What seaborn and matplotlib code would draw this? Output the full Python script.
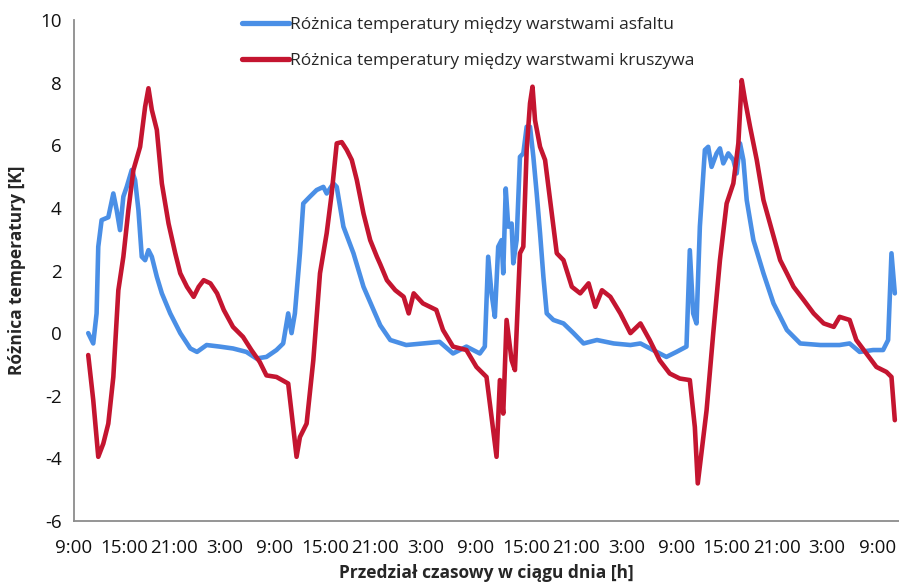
import matplotlib
matplotlib.use("Agg")
import matplotlib.pyplot as plt
import seaborn as sns
import pandas as pd

# hours since 9:00 on day 1
asfalt_t = [1.7, 2.3, 2.7, 2.9, 3.3, 4.1, 4.7, 5.1, 5.5, 5.9, 6.3, 6.9, 7.3, 7.7, 8.1, 8.5, 8.9, 9.3,
            9.9, 10.5, 11.5, 12.7, 13.9, 14.7, 15.85, 17.4, 19.0, 20.6, 21.8, 23.0, 24.2, 25.0, 25.6,
            26.0, 26.4, 27.0, 27.4, 28.2, 29.0, 29.8, 30.2, 31.0, 31.4, 32.2, 33.4, 34.6, 35.8, 36.6,
            37.8, 39.7, 41.7, 43.7, 45.3, 46.9, 48.5, 49.1, 49.5, 49.9, 50.3, 50.7, 51.1, 51.3, 51.6,
            51.9, 52.3, 52.5, 52.9, 53.3, 53.7, 54.1, 54.5, 54.9, 55.3, 55.7, 56.1, 56.5, 57.3, 58.5,
            59.7, 60.9, 62.5, 64.5, 66.5, 67.7, 69.2, 70.8, 72.0, 73.2, 73.6, 74.0, 74.4, 74.8, 75.4,
            75.8, 76.2, 76.8, 77.2, 77.6, 78.2, 78.8, 79.2, 79.6, 80.0, 80.4, 81.2, 82.4, 83.6, 85.2,
            86.8, 89.2, 91.5, 92.7, 93.9, 95.5, 96.7, 97.3, 97.7, 98.1]
asfalt_v = [0.0, -0.33, 0.63, 2.76, 3.61, 3.7, 4.46, 3.93, 3.29, 4.36, 4.67, 5.21, 4.89, 3.93, 2.44, 2.33,
            2.65, 2.44, 1.8, 1.27, 0.63, 0.0, -0.49, -0.6, -0.38, -0.43, -0.49, -0.6, -0.81, -0.76,
            -0.54, -0.33, 0.63, 0.0, 0.63, 2.55, 4.14, 4.36, 4.57, 4.67, 4.46, 4.78, 4.67, 3.4, 2.55,
            1.48, 0.74, 0.25, -0.22, -0.38, -0.33, -0.28, -0.65, -0.43, -0.65, -0.43, 2.44, 1.27, 0.52,
            2.76, 2.97, 1.91, 4.62, 3.4, 3.5, 2.23, 2.97, 5.63, 5.74, 6.59, 6.59, 5.63, 4.46, 3.19,
            1.8, 0.63, 0.42, 0.31, 0.0, -0.33, -0.22, -0.33, -0.38, -0.33, -0.54, -0.76, -0.6, -0.43,
            2.65, 0.63, 0.31, 3.4, 5.85, 5.95, 5.31, 5.74, 5.9, 5.42, 5.74, 5.53, 5.1, 6.06, 5.53,
            4.25, 2.97, 1.91, 0.95, 0.1, -0.33, -0.38, -0.38, -0.33, -0.6, -0.54, -0.54, -0.22, 2.55,
            1.27]

kruszywo_t = [1.7, 2.3, 2.9, 3.5, 4.1, 4.7, 5.3, 5.9, 6.5, 7.1, 7.9, 8.5, 8.9, 9.3, 9.9, 10.5, 11.3,
              12.1, 12.7, 13.5, 14.3, 14.9, 15.5, 16.3, 17.1, 17.9, 19.0, 20.2, 21.2, 22.2, 23.0, 24.2,
              25.6, 26.2, 26.6, 27.0, 27.8, 28.6, 29.4, 30.2, 30.8, 31.4, 32.0, 32.6, 33.2, 33.8, 34.6,
              35.4, 36.2, 36.6, 37.4, 38.4, 39.4, 40.0, 40.6, 41.7, 43.3, 44.1, 45.3, 46.9, 48.1, 49.3,
              49.9, 50.5, 50.9, 51.3, 51.7, 52.3, 52.7, 53.3, 53.7, 54.1, 54.5, 54.8, 55.1, 55.7, 56.3,
              56.9, 57.7, 58.5, 59.5, 60.5, 61.5, 62.3, 63.1, 64.1, 65.3, 66.5, 67.7, 68.8, 70.0, 71.2,
              72.4, 73.6, 74.2, 74.55, 75.6, 76.4, 77.2, 78.0, 78.8, 79.4, 79.8, 80.2, 80.8, 81.6, 82.4,
              83.4, 84.4, 85.2, 86.0, 87.2, 88.4, 89.6, 90.8, 91.5, 92.7, 93.5, 94.7, 95.9, 97.1, 97.7,
              98.1]
kruszywo_v = [-0.7, -2.14, -3.95, -3.53, -2.89, -1.4, 1.37, 2.44, 3.93, 5.21, 5.95, 7.23, 7.82, 7.13,
              6.49, 4.78, 3.5, 2.55, 1.91, 1.48, 1.16, 1.48, 1.69, 1.59, 1.27, 0.74, 0.2, -0.12, -0.54,
              -0.92, -1.35, -1.4, -1.61, -3.0, -3.95, -3.32, -2.89, -0.87, 1.91, 3.19, 4.46, 6.06, 6.1,
              5.85, 5.53, 4.89, 3.82, 2.97, 2.44, 2.2, 1.69, 1.37, 1.16, 0.63, 1.27, 0.95, 0.74, 0.1,
              -0.43, -0.54, -1.08, -1.4, -2.67, -3.95, -1.5, -2.57, 0.42, -0.87, -1.18, 2.55, 2.76, 5.85,
              7.34, 7.87, 6.8, 5.95, 5.53, 4.25, 2.55, 2.33, 1.48, 1.27, 1.59, 0.84, 1.37, 1.16, 0.63,
              0.0, 0.31, -0.22, -0.87, -1.29, -1.45, -1.5, -3.0, -4.8, -2.47, 0.0, 2.33, 4.14, 4.78,
              6.06, 8.08, 7.44, 6.59, 5.53, 4.25, 3.29, 2.33, 1.91, 1.48, 1.06, 0.63, 0.31, 0.2, 0.52,
              0.42, -0.22, -0.65, -1.08, -1.24, -1.4, -2.78]

tick_hours = list(range(0, 97, 6))
tick_labels = ["9:00", "15:00", "21:00", "3:00"] * 4 + ["9:00"]

label_asfalt = "Różnica temperatury między warstwami asfaltu"
label_kruszywo = "Różnica temperatury między warstwami kruszywa"

df = pd.concat([
    pd.DataFrame({"t": asfalt_t, "v": asfalt_v, "seria": label_asfalt}),
    pd.DataFrame({"t": kruszywo_t, "v": kruszywo_v, "seria": label_kruszywo}),
], ignore_index=True)

sns.set_style("white")
plt.rcParams["font.family"] = ["Open Sans", "DejaVu Sans"]
plt.rcParams["axes.unicode_minus"] = False

fig = plt.figure(figsize=(8.99, 5.85), dpi=100)
ax = fig.add_axes([74 / 899, 1 - 521 / 585, 825 / 899, 501 / 585])

sns.lineplot(data=df, x="t", y="v", hue="seria", sort=False, estimator=None,
             palette={label_asfalt: "#4a8fe6", label_kruszywo: "#c41530"},
             linewidth=3.3, ax=ax)

ax.set_xlim(0, 98.6)
ax.set_ylim(-6, 10)
ax.set_yticks(range(-6, 11, 2))
ax.set_xticks(tick_hours)
ax.set_xticklabels(tick_labels)

for s in ["top", "right"]:
    ax.spines[s].set_visible(False)
for s in ["left", "bottom"]:
    ax.spines[s].set_color("#8c8c8c")
    ax.spines[s].set_linewidth(1.3)
ax.tick_params(axis="both", direction="out", length=5, width=1.2, color="#8c8c8c",
               labelsize=13.5, labelcolor="#111111", pad=4)
ax.tick_params(axis="x", pad=8)

ax.set_xlabel("Przedział czasowy w ciągu dnia [h]", fontsize=12.5, fontweight="bold", labelpad=5)
ax.set_ylabel("Różnica temperatury [K]", fontsize=12.5, fontweight="bold", labelpad=10)

leg = ax.legend(loc="upper left", bbox_to_anchor=(0.195, 1.02), frameon=False,
                fontsize=12.5, handlelength=2.7, handletextpad=0.1, labelspacing=1.15,
                borderaxespad=0)
for h in leg.get_lines():
    h.set_linewidth(3.8)

fig.savefig("out.png", dpi=100)
